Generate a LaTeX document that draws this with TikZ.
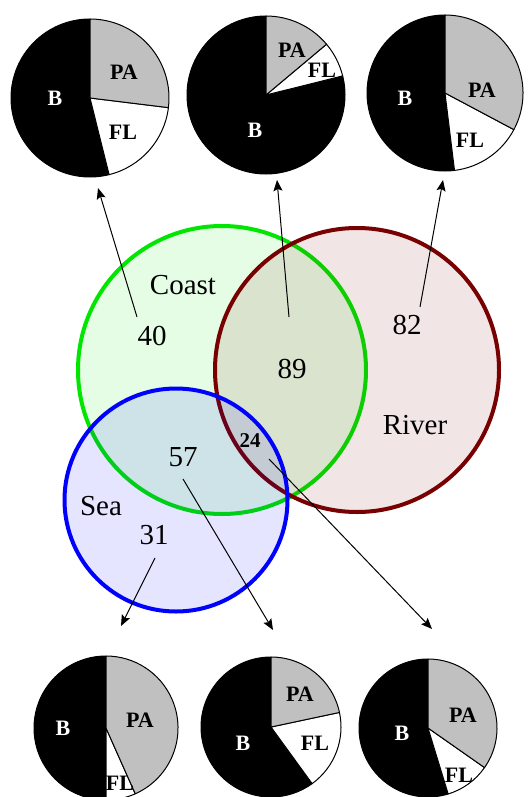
\documentclass[tikz,border=0pt]{standalone}
\usepackage{fontspec}
\setmainfont{Liberation Serif}
\usetikzlibrary{arrows.meta}
\definecolor{coastgreen}{RGB}{0,230,0}
\definecolor{riverbrown}{RGB}{120,0,0}
\definecolor{seablue}{RGB}{0,0,255}
\definecolor{pagray}{RGB}{192,192,192}
\tikzset{venn/.style={circle, line width=4pt, inner sep=0pt, fill opacity=0.1, draw opacity=1}}
\tikzset{setname/.style={font=\fontsize{29}{32}\selectfont, inner sep=0pt}}
\tikzset{tally/.style={font=\fontsize{29}{32}\selectfont, inner sep=0pt}}
\tikzset{smalltally/.style={font=\fontsize{21}{24}\selectfont\bfseries, inner sep=0pt}}
\tikzset{slice/.style={draw=black, line width=1pt, line join=round}}
\tikzset{slicelabel/.style={font=\fontsize{22}{24}\selectfont\bfseries, inner sep=0pt}}
\tikzset{link/.style={line width=1pt, -{Stealth[length=11pt, width=9pt, inset=2pt]}}}
\newcommand{\drawpie}[5]{%
  \coordinate (#1) at #2;
  \pgfmathsetmacro{\bend}{360+(#5)}
  \filldraw[slice, fill=black] (#1) -- ++(90:#3) arc[start angle=90, end angle=\bend, radius=#3] -- cycle;
  \filldraw[slice, fill=white] (#1) -- ++(#5:#3) arc[start angle=#5, end angle=#4, radius=#3] -- cycle;
  \filldraw[slice, fill=pagray] (#1) -- ++(#4:#3) arc[start angle=#4, end angle=90, radius=#3] -- cycle;
}

\begin{document}
\begin{tikzpicture}[x=1pt, y=1pt]
  \useasboundingbox (0,0) rectangle (529,-797);
  \node[venn, draw=coastgreen, fill=coastgreen, minimum size=288pt] (coast) at (222,-370) {};
  \node[venn, draw=riverbrown, fill=riverbrown, minimum size=284pt] (river) at (357,-370) {};
  \node[venn, draw=seablue, fill=seablue, minimum size=223pt] (sea) at (176,-500) {};

  \node[setname] (coastname) at (183,-285) {Coast};
  \node[setname] (rivername) at (415,-425) {River};
  \node[setname] (seaname) at (101,-506) {Sea};
  \node[tally] (n40) at (152,-336) {40};
  \node[tally] (n89) at (292,-369) {89};
  \node[tally] (n82) at (407,-325) {82};
  \node[tally] (n57) at (183,-457) {57};
  \node[tally] (n31) at (154,-535) {31};
  \node[smalltally] (n24) at (250,-441) {24};

  \drawpie{pieA}{(90,-98)}{79}{-7}{-76}
  \drawpie{pieB}{(266,-95)}{79}{40}{14}
  \drawpie{pieC}{(445,-93)}{78}{-28}{-83}
  \drawpie{pieD}{(106,-728)}{72}{-66}{-90}
  \drawpie{pieE}{(271,-727)}{70}{12}{-54}
  \drawpie{pieF}{(428,-728)}{69}{-35}{-73}

  \node[slicelabel, white] (pieAb) at (55,-98) {B};
  \node[slicelabel] (pieApa) at (124,-72) {PA};
  \node[slicelabel] (pieAfl) at (123,-132) {FL};
  \node[slicelabel] (pieBpa) at (292,-50) {PA};
  \node[slicelabel] (pieBfl) at (322,-70) {FL};
  \node[slicelabel, white] (pieBb) at (255,-130) {B};
  \node[slicelabel, white] (pieCb) at (405,-98) {B};
  \node[slicelabel] (pieCpa) at (482,-90) {PA};
  \node[slicelabel] (pieCfl) at (470,-140) {FL};
  \node[slicelabel, white] (pieDb) at (63,-728) {B};
  \node[slicelabel] (pieDpa) at (140,-720) {PA};
  \node[slicelabel] (pieDfl) at (120,-783) {FL};
  \node[slicelabel] (pieEpa) at (300,-694) {PA};
  \node[slicelabel] (pieEfl) at (315,-743) {FL};
  \node[slicelabel, white] (pieEb) at (243,-743) {B};
  \node[slicelabel, white] (pieFb) at (402,-733) {B};
  \node[slicelabel] (pieFpa) at (463,-715) {PA};
  \node[slicelabel] (pieFfl) at (459,-775) {FL};

  \coordinate (from40) at (137,-317);
  \coordinate (from89) at (289,-317);
  \coordinate (from82) at (420,-307);
  \coordinate (from24) at (269,-459);
  \coordinate (from57) at (183,-479);
  \coordinate (from31) at (155,-558);
  \coordinate (to40) at (98,-188);
  \coordinate (to89) at (277,-180);
  \coordinate (to82) at (443,-180);
  \coordinate (to24) at (432,-629);
  \coordinate (to57) at (273,-630);
  \coordinate (to31) at (121,-626);
  \foreach \n in {40, 89, 82, 24, 57, 31} {
    \draw[link] (from\n) -- (to\n);
  }
\end{tikzpicture}
\end{document}
